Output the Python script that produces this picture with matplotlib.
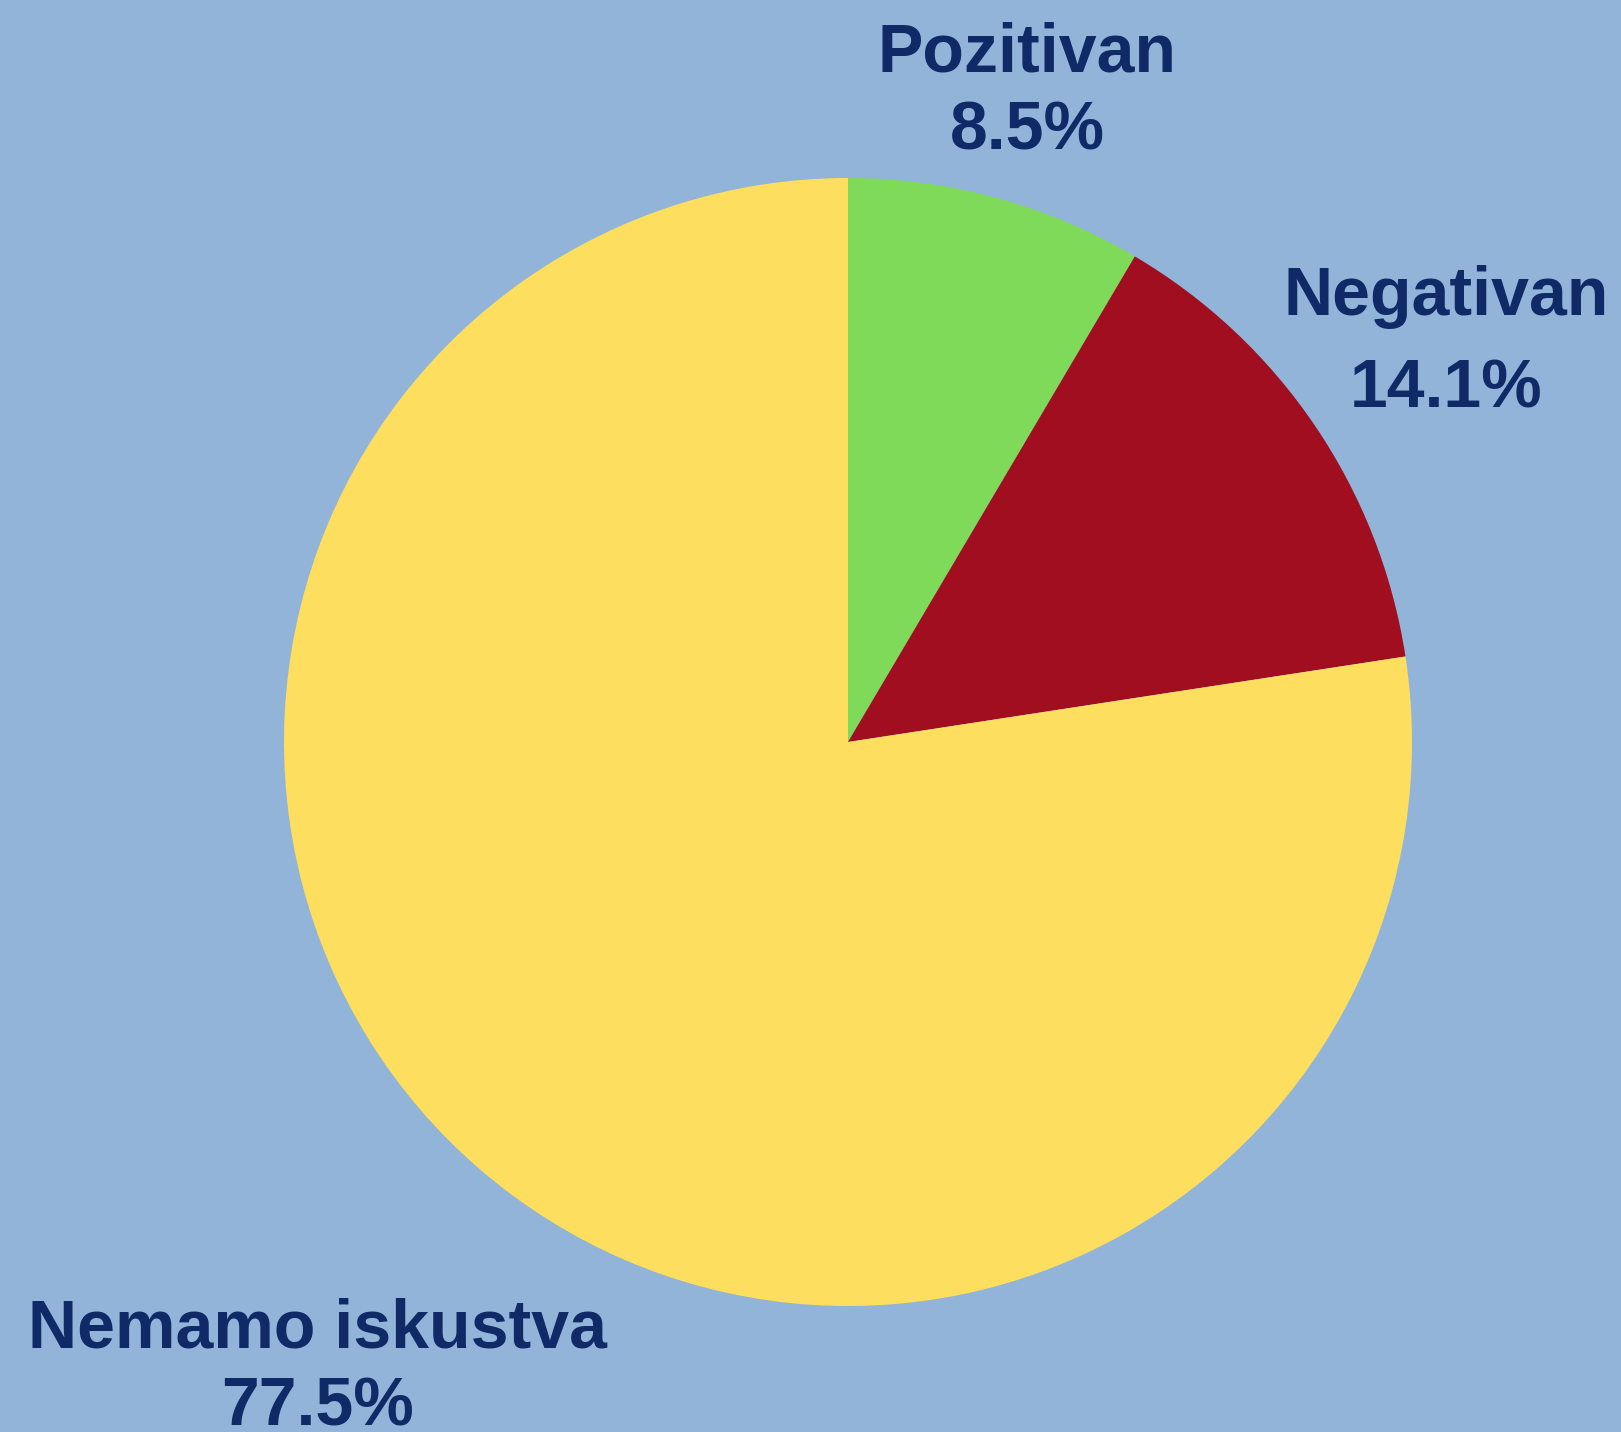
import matplotlib
matplotlib.use("Agg")
import matplotlib.pyplot as plt

categories = ["Pozitivan", "Negativan", "Nemamo iskustva"]
values = [8.5, 14.1, 77.5]
colors = ["#7FDA5A", "#A00E20", "#FEDE5E"]

bg = "#92B4D8"
txt = "#0F2A66"
fam = ["Liberation Sans", "DejaVu Sans"]

W, H = 1621, 1432
fig = plt.figure(figsize=(W / 100, H / 100), dpi=100, facecolor=bg)
cx, cy, r = 848, 742, 564
ax = fig.add_axes([(cx - r) / W, (H - cy - r) / H, 2 * r / W, 2 * r / H])
ax.set_facecolor(bg)
ax.pie(values, colors=colors, startangle=90, counterclock=False, radius=1,
       wedgeprops=dict(linewidth=0))
ax.set_xlim(-1, 1)
ax.set_ylim(-1, 1)
ax.set_aspect("equal")
ax.axis("off")

# label positions (pixel: center x, baseline of name, baseline of pct)
label_pos = [(1027, 72, 150), (1446, 315, 408), (318, 1347, 1425)]
fs = 49
for cat, v, (x, y1, y2) in zip(categories, values, label_pos):
    fig.text(x / W, 1 - y1 / H, cat, ha="center", va="baseline", fontsize=fs,
             fontweight="bold", color=txt, family=fam)
    fig.text(x / W, 1 - y2 / H, f"{v:.1f}%", ha="center", va="baseline", fontsize=fs,
             fontweight="bold", color=txt, family=fam)

fig.savefig("out.png", dpi=100, facecolor=bg)
